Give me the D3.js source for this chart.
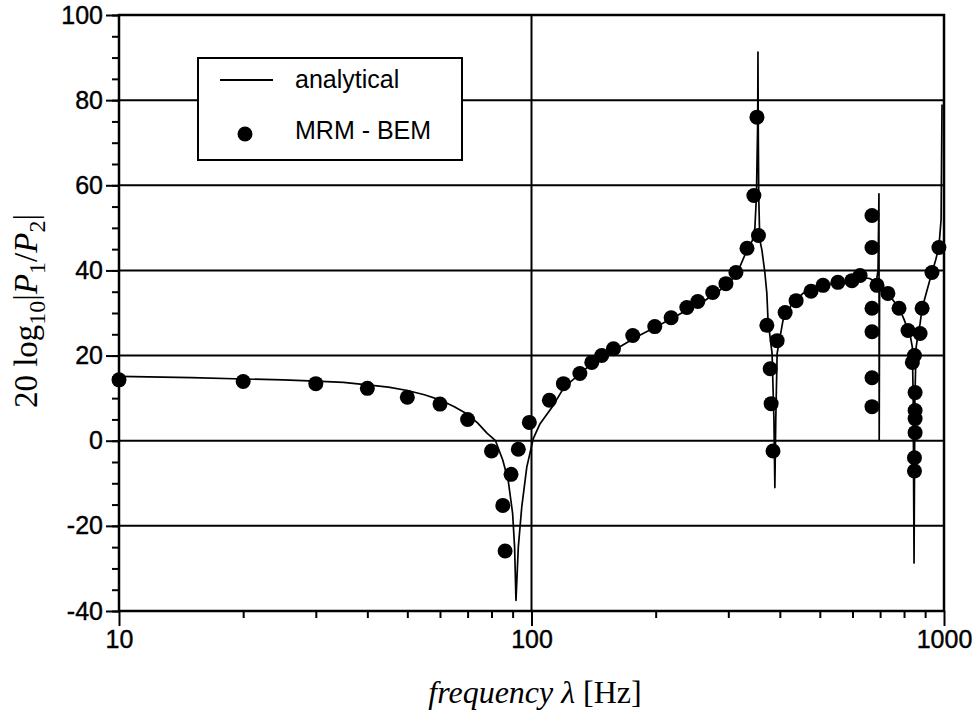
<!DOCTYPE html>
<html><head><meta charset="utf-8">
<script src="https://cdn.jsdelivr.net/npm/d3@7"></script>
<style>body{margin:0;background:#fff}</style>
</head><body>
<svg id="c" width="978" height="719"></svg>
<script>
// analytical solution
const analyticalFreq = [10,15,20,25,30,35,40,45,50,55,60,65,70,74,78,81.8,85.2,87.8,90.0,91.0,
  91.7,92.9,94.7,97.4,101,104.9,112.9,120,130,140,150,160,180,200,220,240,260,280,300,315,
  333,343,348,351,353.5,354,354.5,355.5,357,358,362,368,372,374.5,383,387,389,391,394,407,428,455,
  476,509,553,598,626,660,685,692,695.5,696.5,698,731,755,780,800,818,830,838,842,846,
  850,856,865,875,885,910,935,955,972,984,989];
const analyticalDb = [15.1,14.8,14.5,14.3,14.0,13.7,13.1,12.6,11.8,10.8,9.6,8.0,6.2,4.2,1.8,0,-4.6,-9.3,-17.1,-25,
  -37.5,-25,-15.6,-6.2,0.5,4.0,8.3,12.6,15.4,18.1,20.0,21.5,24.4,26.7,28.8,30.9,32.6,34.7,36.8,39.3,
  44.8,47,50,57.6,75,91.3,75,57.6,50,47,44.7,39.4,34.6,28.2,20.5,5,-11.0,5,20.5,28.2,32.2,34.6,
  35.3,36.4,37.2,37.8,38.4,38.1,37.2,40,58,0.3,36,34.6,32.8,31.0,28.5,26.0,24.2,22,10,-28.7,
  10,22,25.0,27.5,31.1,35.4,39.5,42.5,45.6,52,79];
// MRM - BEM results
const bemFreq = [10,20,30,40,50,60,70,80,85.2,86.3,89.2,92.9,98.8,110.5,119.5,131,140,148,158,176,
  199,218,238,253,275,296,313,333,346,352,355,372,379,381,385,394,412,438,476,509,
  553,598,626,669,669,669,669,669,669,688,731,778,818,838,848,851,851,851,851,848,848,875,885,935,972];
const bemDb = [14.3,13.9,13.4,12.3,10.2,8.6,5.0,-2.4,-15.2,-25.9,-7.9,-2.0,4.3,9.5,13.4,15.8,18.4,20.0,21.6,24.7,
  26.8,28.9,31.3,32.7,34.8,36.9,39.5,45.2,57.6,76.0,48.2,27.1,16.9,8.7,-2.4,23.5,30.1,32.9,35.1,36.5,
  37.2,37.6,38.8,52.9,45.4,31.1,25.6,14.8,8.0,36.5,34.6,31.1,25.9,18.4,20.0,11.3,7.1,5.2,1.9,-4.0,-7.1,25.2,31.1,39.5,45.4];
const yTicks = [-40,-20,0,20,40,60,80,100];
const yMinorTicks = d3.range(-40,101,5);
const xTicks = [10,100,1000];
const xMinorTicks = [20,30,40,50,60,70,80,90,200,300,400,500,600,700,800,900];
const legendLabels = ["analytical","MRM - BEM"];

const svg = d3.select("#c");
const x = d3.scaleLog().domain([10,1000]).range([119,944]);
const y = d3.scaleLinear().domain([-40,100]).range([611,15]);
const sans = "'Liberation Sans', Arial, sans-serif";
const serif = "'Liberation Serif', 'Times New Roman', serif";
const fmt = d => String(d);

// gridlines
svg.append("g").selectAll("line").data(yTicks.filter(v=>v>-40&&v<100)).join("line")
  .attr("x1",x(10)).attr("x2",x(1000)).attr("y1",d=>y(d)).attr("y2",d=>y(d))
  .attr("stroke","#000").attr("stroke-width",2);
svg.append("line").attr("x1",x(100)).attr("x2",x(100)).attr("y1",y(100)).attr("y2",y(-40))
  .attr("stroke","#000").attr("stroke-width",2);

// axes
function styleAxis(g){ g.select(".domain").remove(); g.selectAll("line").attr("stroke","#000").attr("stroke-width",2); }
svg.append("g").attr("transform",`translate(${x(10)},0)`)
  .call(d3.axisLeft(y).tickValues(yMinorTicks).tickSize(7).tickFormat("")).call(styleAxis);
const ya = svg.append("g").attr("transform",`translate(${x(10)},0)`)
  .call(d3.axisLeft(y).tickValues(yTicks).tickSize(13).tickPadding(3).tickFormat(fmt)).call(styleAxis);
ya.selectAll("text").attr("font-family",sans).attr("font-size",25).attr("fill","#000")
  .attr("stroke","#000").attr("stroke-width",0.4);
svg.append("g").attr("transform",`translate(0,${y(-40)})`)
  .call(d3.axisBottom(x).tickValues(xMinorTicks).tickSize(7).tickFormat("")).call(styleAxis);
const xa = svg.append("g").attr("transform",`translate(0,${y(-40)})`)
  .call(d3.axisBottom(x).tickValues(xTicks).tickSize(15).tickPadding(4).tickFormat(fmt)).call(styleAxis);
xa.selectAll("text").attr("font-family",sans).attr("font-size",25).attr("fill","#000")
  .attr("stroke","#000").attr("stroke-width",0.4);

// frame
svg.append("rect").attr("x",x(10)).attr("y",y(100)).attr("width",x(1000)-x(10)).attr("height",y(-40)-y(100))
  .attr("fill","none").attr("stroke","#000").attr("stroke-width",2.5);

// analytical curve
const curveData = analyticalFreq.map((f,i)=>({f, v: analyticalDb[i]}));
svg.append("path").datum(curveData)
  .attr("d", d3.line().x(d=>x(d.f)).y(d=>y(d.v)))
  .attr("fill","none").attr("stroke","#000").attr("stroke-width",1.7).attr("stroke-linejoin","round");

// BEM points
svg.append("g").selectAll("circle").data(bemFreq.map((f,i)=>({f, v: bemDb[i]}))).join("circle")
  .attr("cx",d=>x(d.f)).attr("cy",d=>y(d.v)).attr("r",7.5).attr("fill","#000");

// legend
const lg = svg.append("g");
lg.append("rect").attr("x",198).attr("y",58).attr("width",264).attr("height",102)
  .attr("fill","#fff").attr("stroke","#000").attr("stroke-width",2);
lg.append("line").attr("x1",220).attr("x2",273).attr("y1",80).attr("y2",80).attr("stroke","#000").attr("stroke-width",2);
lg.append("circle").attr("cx",245).attr("cy",134).attr("r",7.5).attr("fill","#000");
lg.selectAll("text").data(legendLabels).join("text")
  .attr("x",295).attr("y",(d,i)=>i===0?88:139).text(d=>d)
  .attr("font-family",sans).attr("font-size",25).attr("fill","#000");

// y title
const yt = svg.append("text").attr("transform","translate(37,311) rotate(-90)")
  .attr("text-anchor","middle").attr("font-family",serif).attr("font-size",33).attr("fill","#000");
yt.append("tspan").text("20 log");
yt.append("tspan").text("10").attr("font-size",24).attr("dy",8);
yt.append("tspan").text("|").attr("dy",-8);
yt.append("tspan").text("P").attr("font-style","italic");
yt.append("tspan").text("1").attr("font-size",24).attr("dy",8);
yt.append("tspan").text("/").attr("dy",-8);
yt.append("tspan").text("P").attr("font-style","italic");
yt.append("tspan").text("2").attr("font-size",24).attr("dy",8);
yt.append("tspan").text("|").attr("dy",-8);

// x title
const xt = svg.append("text").attr("x",535).attr("y",703).attr("text-anchor","middle")
  .attr("font-family",serif).attr("font-size",32).attr("fill","#000");
xt.append("tspan").text("frequency λ").attr("font-style","italic");
xt.append("tspan").text(" [Hz]");
</script>
</body></html>
